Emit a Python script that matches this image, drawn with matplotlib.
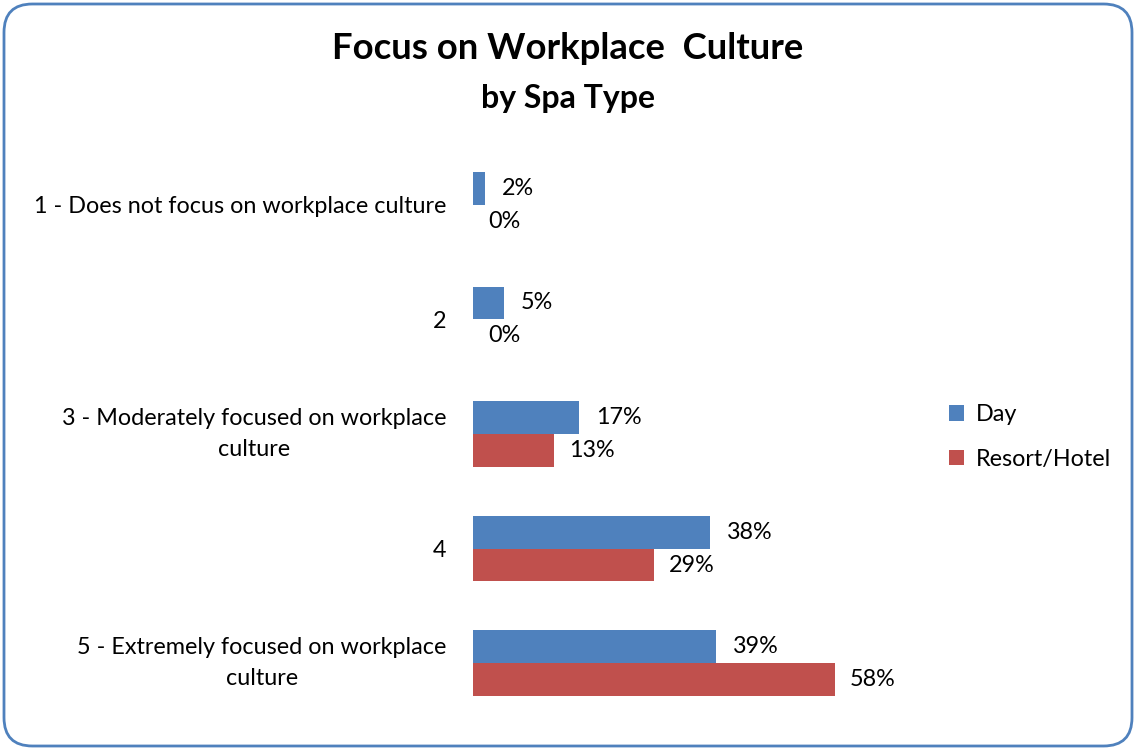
import matplotlib.pyplot as plt
from matplotlib.patches import FancyBboxPatch

categories = [
    "1 - Does not focus on workplace culture",
    "2",
    "3 - Moderately focused on workplace\nculture",
    "4",
    "5 - Extremely focused on workplace\nculture",
]
day = [2, 5, 17, 38, 39]
resort_hotel = [0, 0, 13, 29, 58]

BLUE = "#4F81BD"
RED = "#C0504D"
FS = 16.8
plt.rcParams["font.family"] = ["Lato", "DejaVu Sans"]

fig = plt.figure(figsize=(11.36, 7.49), dpi=100)
ax = fig.add_axes([473 / 1136, 28.5 / 749, 374 / 1136, 573 / 749])

h = 0.287
ypos = list(range(len(categories)))
ax.barh([y - h / 2 for y in ypos], day, height=h, color=BLUE, label="Day")
ax.barh([y + h / 2 for y in ypos], resort_hotel, height=h, color=RED, label="Resort/Hotel")

for y, v in zip(ypos, day):
    ax.text(v + 2.7, y - h / 2, f"{v}%", va="center", ha="left", fontsize=FS)
for y, v in zip(ypos, resort_hotel):
    ax.text(v + 2.4, y + h / 2, f"{v}%", va="center", ha="left", fontsize=FS)

ax.set_xlim(0, 60)
ax.set_ylim(4.5, -0.5)
ax.set_yticks(ypos)
ax.set_yticklabels(categories, fontsize=FS)
for lbl in ax.get_yticklabels():
    lbl.set_multialignment("center")
    lbl.set_linespacing(1.6)
    # two-line labels centred as a block, single lines on their baseline
    if "\n" in lbl.get_text():
        lbl.set_verticalalignment("center")
ax.tick_params(axis="y", length=0, pad=19)
ax.set_xticks([])
for s in ax.spines.values():
    s.set_visible(False)

fig.text(0.5, 0.935, "Focus on Workplace  Culture", ha="center", va="center",
         fontsize=26.3, fontweight="bold")
fig.text(0.5, 0.869, "by Spa Type", ha="center", va="center",
         fontsize=23, fontweight="bold")

fig.legend(loc="center left", bbox_to_anchor=(928 / 1136, 1 - 437 / 749),
           frameon=False, fontsize=FS, handlelength=0.65, handleheight=0.65,
           labelspacing=1.0, handletextpad=0.5)

border = FancyBboxPatch((4 / 1136, 3 / 749), 1128 / 1136, 742 / 749,
                        boxstyle="round,pad=0,rounding_size=0.025",
                        transform=fig.transFigure, fill=False,
                        edgecolor=BLUE, linewidth=2, mutation_aspect=1136 / 749)
fig.patches.append(border)

fig.savefig("out.png", dpi=100)
